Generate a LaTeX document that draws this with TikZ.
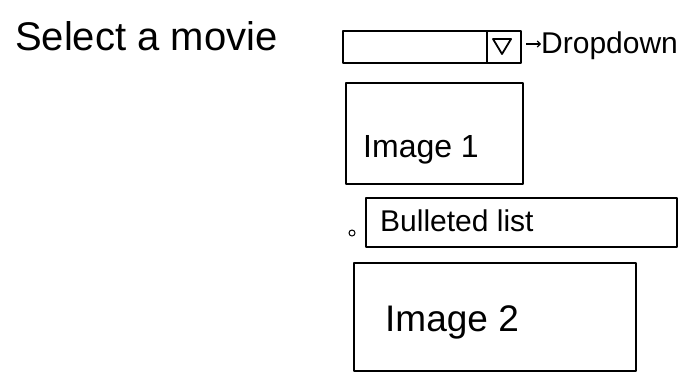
\documentclass[tikz,border=0pt]{standalone}
\usepackage{fontspec}
\usetikzlibrary{arrows.meta}
\setmainfont{Liberation Sans}
\begin{document}
\begin{tikzpicture}[x=1pt,y=-1pt,
  sk/.style={draw=black,line width=1.6pt,line join=round},
  boxn/.style={sk,inner sep=0pt,anchor=north west},
  txt/.style={inner sep=0pt,anchor=base west,text=black}]
\useasboundingbox (0,0) rectangle (699,383);
% title
\node[txt,font=\fontsize{40}{42}\selectfont] (title) at (15,50) {Select a movie};
% dropdown
\node[boxn,minimum width=178pt,minimum height=32pt] (dd) at (342,30) {};
\coordinate (divtop) at (487,30);
\coordinate (divbot) at (487,62);
\draw[sk] (divtop) -- (divbot);
\coordinate (t1) at (493,39);
\coordinate (t2) at (511,39);
\coordinate (t3) at (502,54);
\draw[sk,line width=1.8pt] (t1) -- (t2) -- (t3) -- cycle;
\node[txt,font=\fontsize{30}{32}\selectfont] (ddlabel) at (541,53) {Dropdown};
\coordinate (arrs) at (526,44);
\draw[line width=1.1pt,-{Straight Barb[length=3pt]}] (arrs) -- (ddlabel.west |- arrs);
% image 1
\node[boxn,minimum width=177pt,minimum height=101pt] (img1) at (345,82) {};
\node[txt,font=\fontsize{32}{34}\selectfont] (img1t) at (363,157) {Image 1};
% bulleted list
\node[circle,draw,line width=1pt,inner sep=0pt,minimum size=6pt] (bul) at (352,233) {};
\node[boxn,minimum width=311pt,minimum height=49pt] (bl) at (365,197) {};
\node[txt,font=\fontsize{30}{32}\selectfont] (blt) at (380,231) {Bulleted list};
% image 2
\node[boxn,minimum width=282pt,minimum height=108pt] (img2) at (353,262) {};
\node[txt,font=\fontsize{37}{39}\selectfont] (img2t) at (385,331) {Image 2};
\end{tikzpicture}
\end{document}
